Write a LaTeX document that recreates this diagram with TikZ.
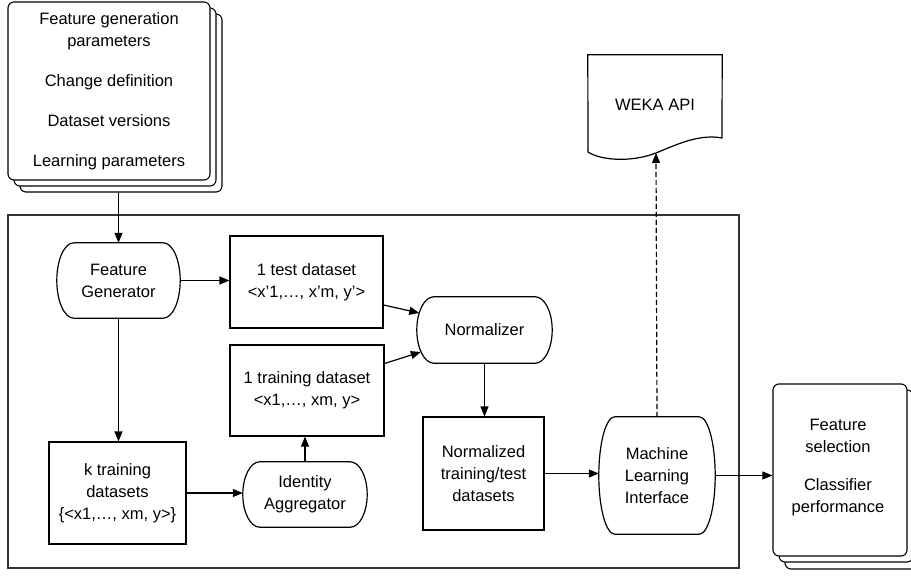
\documentclass[tikz,border=0pt]{standalone}
\usepackage{fontspec}
\setmainfont{Liberation Sans}
\usetikzlibrary{arrows.meta,calc}
\newcommand\dfont{\fontsize{16.5}{22}\selectfont}
\newcommand\termshape[2]{%
  \draw[line] let \p1=(#1.north), \p2=(#1.south), \n1={(\y1-\y2)/2} in
   ([xshift=#2pt]#1.north west) -- ([xshift=-#2pt]#1.north east)
   arc[start angle=90,end angle=-90,x radius=#2pt,y radius=\n1]
   -- ([xshift=#2pt]#1.south west)
   arc[start angle=270,end angle=90,x radius=#2pt,y radius=\n1] -- cycle;}
\begin{document}
\begin{tikzpicture}[x=1pt,y=-1pt,
  every node/.style={font=\dfont, align=center, inner sep=0pt},
  line/.style={line width=1.2pt},
  arr/.style={line width=1.2pt, -{Triangle[length=10pt,width=8pt]}},
  dasharr/.style={arr, dash pattern=on 5pt off 3pt},
  box/.style={draw, line width=1.1pt},
  stackbox/.style={draw, fill=white, rounded corners=6pt, line width=1.1pt},
  framebox/.style={draw=black!80, line width=1.4pt}]
\useasboundingbox (0,0) rectangle (911,578);

% container frame
\node[framebox, minimum width=731pt, minimum height=353pt] (frame) at (373.5,391.5) {};

% top-left stack
\node[stackbox, minimum width=202pt, minimum height=178pt] (s3) at (121,103) {};
\node[stackbox, minimum width=202pt, minimum height=178pt] (s2) at (115,97) {};
\node[stackbox, minimum width=202pt, minimum height=178pt] (s1) at (109,91) {};
\node (s1text) at (s1.center) {Feature generation\\parameters\\[18pt]Change definition\\[18pt]Dataset versions\\[18pt]Learning parameters};

% right stack
\node[stackbox, minimum width=134pt, minimum height=172pt] (r3) at (852,483) {};
\node[stackbox, minimum width=134pt, minimum height=172pt] (r2) at (846,476) {};
\node[stackbox, minimum width=134pt, minimum height=172pt] (r1) at (840,470) {};
\node (r1text) at (838,468) {Feature\\selection\\[16pt]Classifier\\performance};

% WEKA API document
\node[minimum width=134pt, minimum height=97pt] (wk) at (655,103.5) {};
\node (wktext) at (655,105) {WEKA API};
\coordinate (wkb) at (656,153);
\draw[line] (wk.north west) -- (wk.north east) -- (722,138)
  .. controls (700,134) and (680,143) .. (wkb)
  .. controls (630,163) and (600,160) .. (588,152) -- cycle;

% rounded (terminal) nodes
\node[minimum width=123pt, minimum height=75pt] (fg) at (118.5,280.5) {Feature\\Generator};
\termshape{fg}{17}
\node[minimum width=135pt, minimum height=66pt] (norm) at (484.5,330) {Normalizer};
\termshape{norm}{17}
\node[minimum width=124pt, minimum height=65pt] (ia) at (305,494.5) {Identity\\Aggregator};
\termshape{ia}{17}
\node[minimum width=116pt, minimum height=117pt] (mli) at (657,475.5) {Machine\\Learning\\Interface};
\termshape{mli}{16}

% rectangles
\node[box, minimum width=153pt, minimum height=92pt] (test) at (306.5,282) {1 test dataset\\<x’1,…, x’m, y’>};
\node[box, minimum width=154pt, minimum height=91pt] (train1) at (307,390.5) {1 training dataset\\<x1,…, xm, y>};
\node[box, minimum width=137pt, minimum height=102pt] (ktrain) at (117.5,493) {k training\\datasets\\\{<x1,…, xm, y>\}};
\node[box, minimum width=121pt, minimum height=113pt] (nt) at (483.5,473.5) {Normalized\\training/test\\datasets};

% connectors
\draw[arr] (fg |- s3.south) -- (fg.north);
\draw[arr] (fg.east) -- (fg.east -| test.west);
\draw[arr] (fg.south) -- (fg.south |- ktrain.north);
\draw[arr] ([yshift=-23pt]test.east) -- ([xshift=2.5pt,yshift=17pt]norm.west);
\draw[arr] ([yshift=27pt]train1.east) -- ([xshift=4pt,yshift=-22pt]norm.west);
\draw[arr] (norm.south) -- (norm.south |- nt.north);
\draw[arr] (nt.east) -- (nt.east -| mli.west);
\draw[arr] (ktrain.east) -- (ktrain.east -| ia.west);
\draw[arr] (ia.north) -- (ia.north |- train1.south);
\draw[dasharr] (mli.north) -- (wkb);
\draw[arr] (mli.east) -- (mli.east -| r1.west);
\end{tikzpicture}
\end{document}
